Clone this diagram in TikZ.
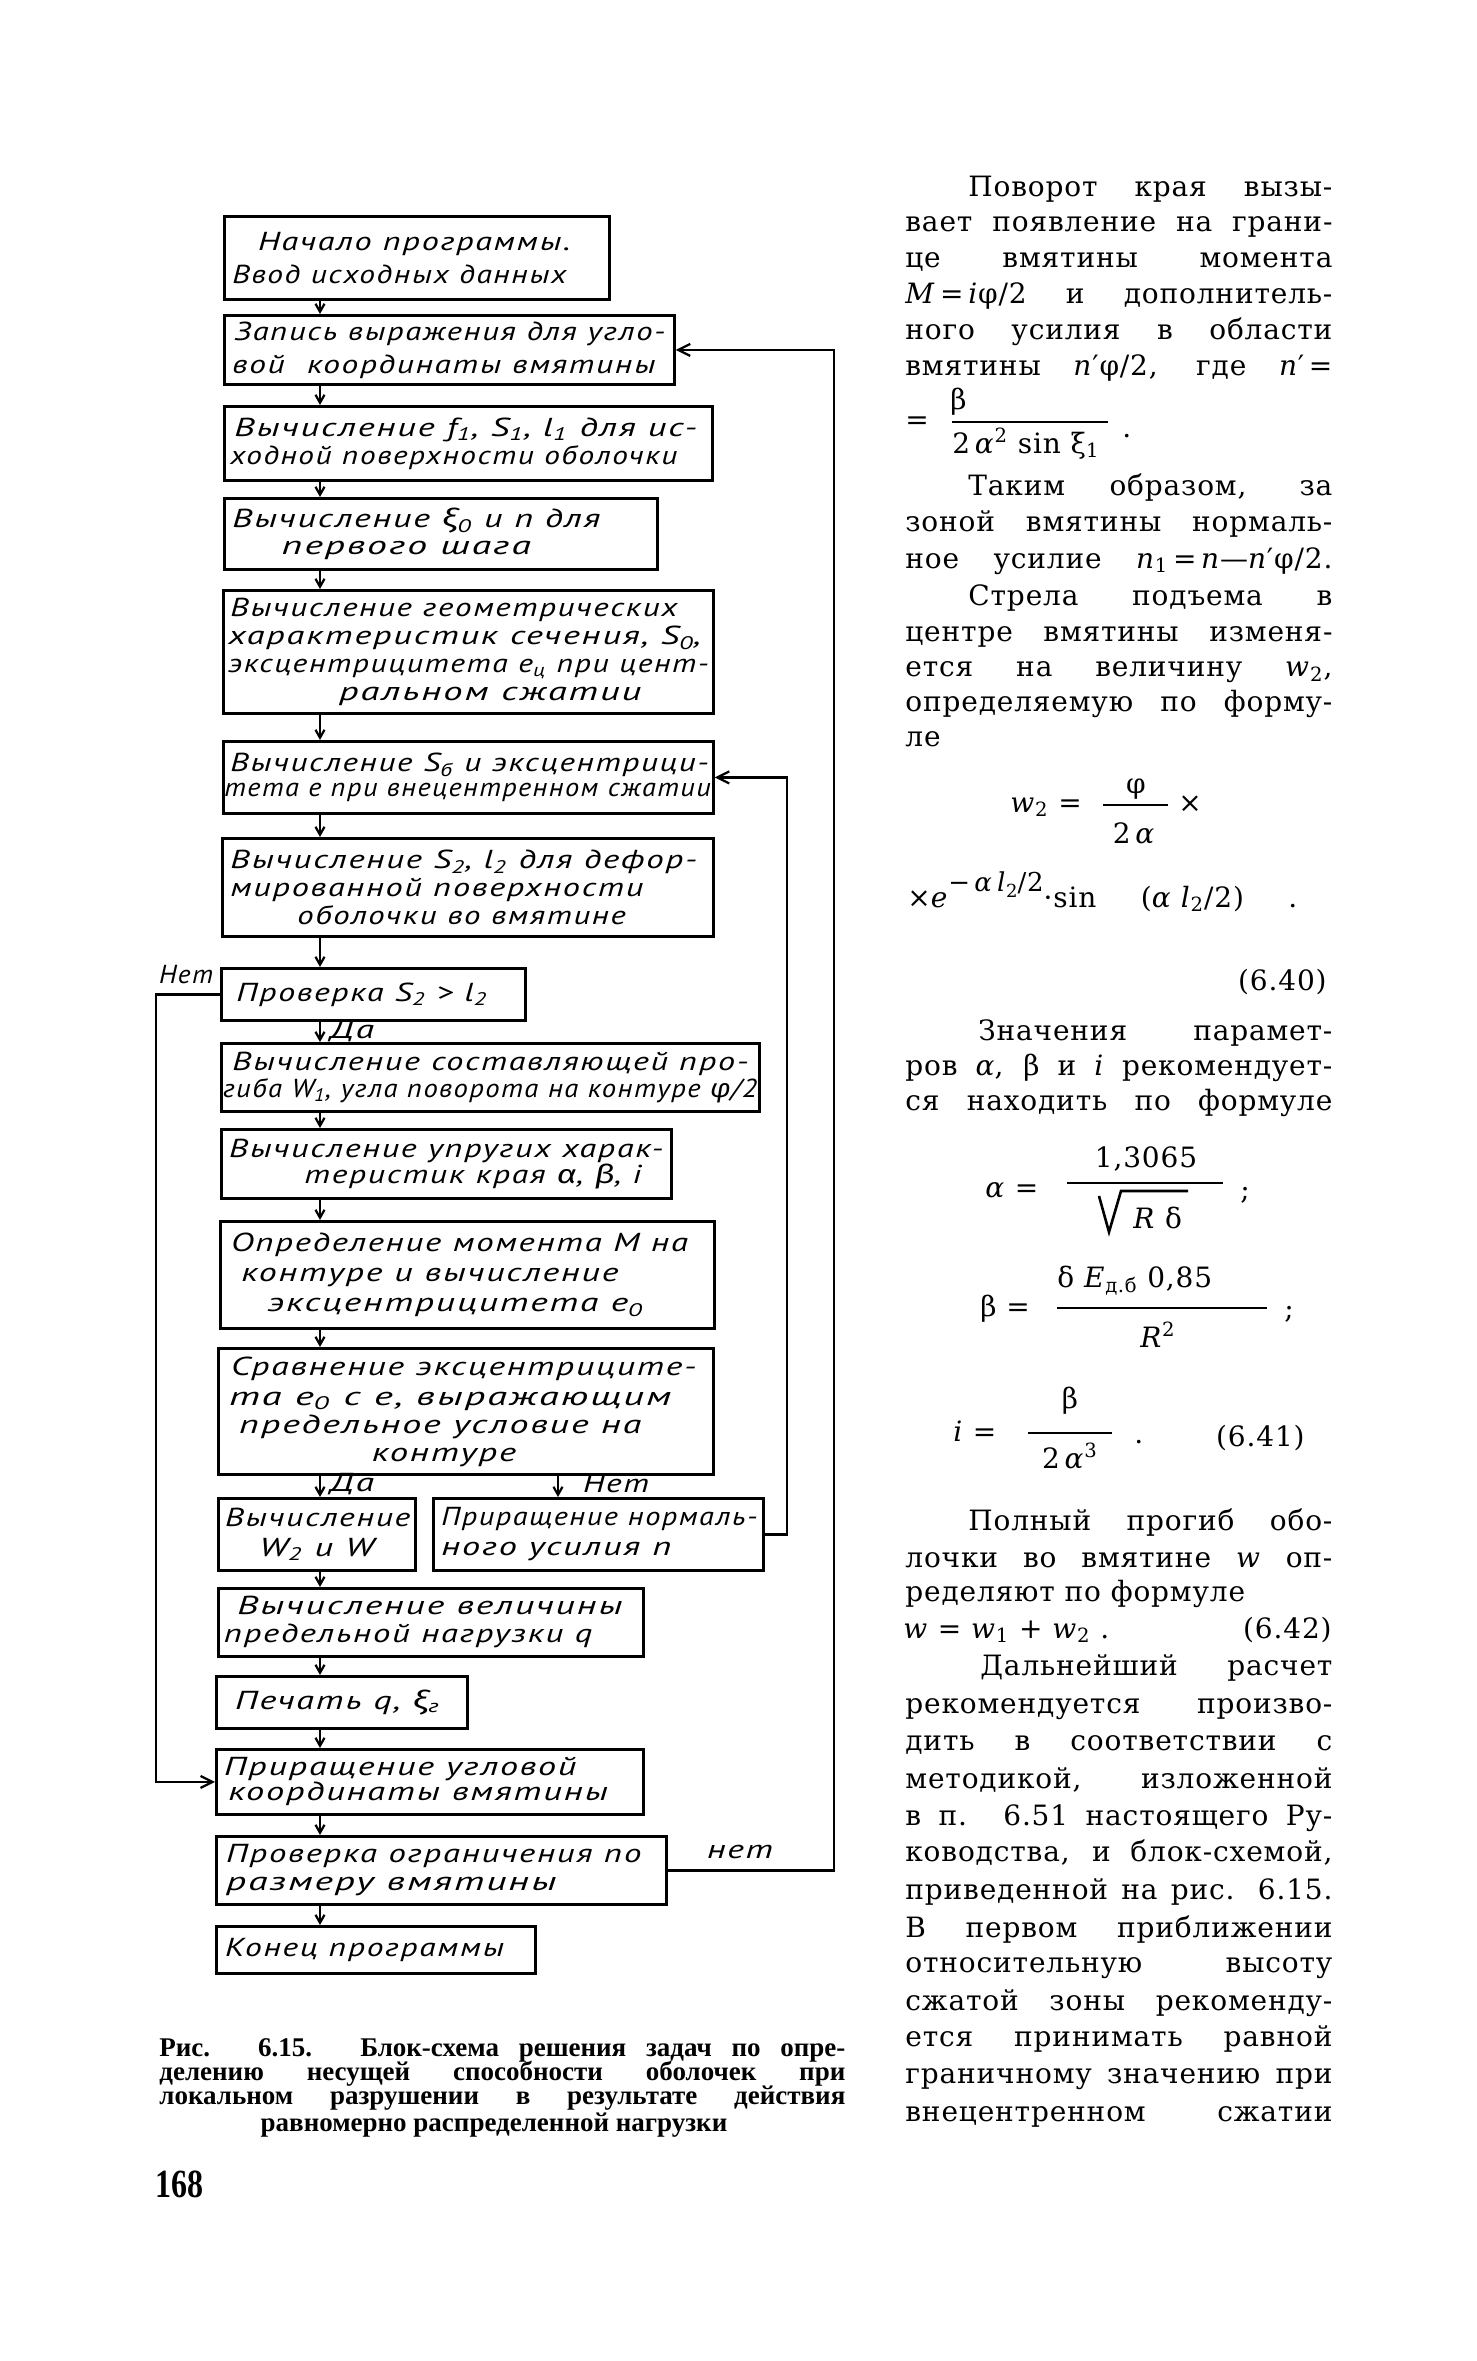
\documentclass[tikz,border=0pt]{standalone}
\usepackage{fontspec}
\usepackage{graphicx}
\usetikzlibrary{arrows.meta,calc}
\setmainfont{DejaVu Serif}[LetterSpace=3]
\newfontfamily\handfam{PT Sans}[LetterSpace=5]
\newfontfamily\grkfam{Fira Sans}
\newfontfamily\capfam{Liberation Serif}
\newcommand\handf{\handfam\itshape\fontsize{13pt}{14pt}\selectfont}
\newcommand\bodyf{\fontsize{14pt}{16pt}\selectfont}
\newcommand\capfont{\capfam\bfseries\fontsize{13.5pt}{14pt}\selectfont}
\newcommand\gk[1]{{\grkfam\itshape #1}}
\newcommand\fl[3]{\hspace*{#1pt}\resizebox{#2pt}{\height}{#3}}
\newsavebox\jlbox
\newcommand\jl[2][0pt]{\sbox\jlbox{\hspace*{#1}#2}\ifdim\wd\jlbox>213.5pt \resizebox{213.5pt}{\height}{\usebox\jlbox}\else\makebox[213.5pt][s]{\hspace*{#1}#2}\fi}
\begin{document}
\begin{tikzpicture}[x=0.5pt,y=-0.5pt,
  fc/.style={draw, line width=1.4pt, anchor=north west, inner xsep=0pt, inner ysep=0pt, font=\handf, align=left},
  lbl/.style={inner sep=0pt, font=\handf},
  conn/.style={line width=1.1pt, -{Straight Barb[length=4pt,width=4.5pt]}},
  loopc/.style={line width=1.1pt, -{Straight Barb[length=6pt,width=6pt]}},
  bt/.style={anchor=base west, inner sep=0pt, font=\bodyf},
  bc/.style={anchor=base, inner sep=0pt, font=\bodyf},
  be/.style={anchor=base east, inner sep=0pt, font=\bodyf},
  bar/.style={line width=0.9pt},
  capst/.style={anchor=base west, inner sep=0pt, font=\capfont}]
\fill[white] (0,0) rectangle (1477,2361);
\useasboundingbox (0,0) rectangle (1477,2361);

% ---------------- flowchart boxes ----------------
\node[fc, minimum width=192.5pt, minimum height=41.5pt, text width=192.5pt] (B1) at (223,215)
  {\fl{16.9}{156.1}{Начало программы.}\\[2.5pt]\fl{4}{167}{Ввод исходных данных}};
\node[fc, minimum width=225pt, minimum height=34.5pt, text width=225pt] (B2) at (223,314)
  {\fl{5}{215.5}{Запись выражения для угло-}\\[2.5pt]\fl{4}{211.5}{вой\ \ координаты вмятины}};
\node[fc, minimum width=244pt, minimum height=37pt, text width=244pt] (B3) at (223,405)
  {\fl{5}{231.3}{Вычисление f\textsubscript{1}, S\textsubscript{1}, l\textsubscript{1} для ис-}\\\fl{3}{223.5}{ходной поверхности оболочки}};
\node[fc, minimum width=216.5pt, minimum height=35.5pt, text width=216.5pt] (B4) at (223,497)
  {\fl{4}{184}{Вычисление \gk{ξ}\textsubscript{0} и n для}\\[-0.7pt]\fl{28.75}{124.5}{первого шага}};
\node[fc, minimum width=245pt, minimum height=61.5pt, text width=245pt] (B5) at (222,589)
  {\fl{3.5}{223.5}{Вычисление геометрических}\\\fl{2.5}{236.3}{характеристик сечения, S\textsubscript{0},}\\\fl{2.5}{240.2}{эксцентрицитета e\textsubscript{ц} при цент-}\\\fl{57.9}{151.1}{ральном сжатии}};
\node[fc, minimum width=245pt, minimum height=36pt, text width=245pt] (B6) at (222,740)
  {\fl{3.5}{239.2}{Вычисление S\textsubscript{б} и эксцентрици-}\\[-1.5pt]\fl{0.5}{243.2}{тета e при внецентренном сжатии}};
\node[fc, minimum width=245.5pt, minimum height=49pt, text width=245.5pt] (B7) at (221,837)
  {\fl{4}{233.3}{Вычисление S\textsubscript{2}, l\textsubscript{2} для дефор-}\\\fl{4}{206.5}{мированной поверхности}\\\fl{37.5}{164.2}{оболочки во вмятине}};
\node[fc, minimum width=152pt, minimum height=26pt, text width=152pt] (B8) at (220,967)
  {\fl{7.5}{125.5}{Проверка S\textsubscript{2} > l\textsubscript{2}}};
\node[fc, minimum width=269pt, minimum height=34pt, text width=269pt] (B9) at (220,1042)
  {\fl{5.5}{258}{Вычисление составляющей про-}\\[-0.7pt]\fl{0.8}{267}{гиба W\textsubscript{1}, угла поворота на контуре \gk{φ}/2}};
\node[fc, minimum width=225pt, minimum height=34.5pt, text width=225pt] (B10) at (220,1128)
  {\fl{3.9}{217.1}{Вычисление упругих харак-}\\[-0.7pt]\fl{41.5}{168.5}{теристик края \gk{α}, \gk{β}, i}};
\node[fc, minimum width=247pt, minimum height=53.5pt, text width=247pt] (B11) at (219,1220)
  {\fl{5.4}{228.4}{Определение момента M на}\\[1pt]\fl{10.5}{188.5}{контуре и вычисление}\\[1pt]\fl{23.7}{187.7}{эксцентрицитета e\textsubscript{0}}};
\node[fc, minimum width=247.5pt, minimum height=63pt, text width=247.5pt] (B12) at (217,1347)
  {\fl{6.4}{232.6}{Сравнение эксцентриците-}\\[1pt]\fl{5.3}{221.1}{та e\textsubscript{0} с e, выражающим}\\\fl{10.5}{201}{предельное условие на}\\\fl{76.7}{72.2}{контуре}};
\node[fc, minimum width=98.5pt, minimum height=36pt, text width=98.5pt] (B13) at (217,1497)
  {\fl{3.3}{92.7}{Вычисление}\\[1pt]\fl{20.5}{57.3}{W\textsubscript{2} и W}};
\node[fc, minimum width=165pt, minimum height=36pt, text width=165pt] (B14) at (432,1497)
  {\fl{4}{158}{Приращение нормаль-}\\[1pt]\fl{4}{115}{ного усилия n}};
\node[fc, minimum width=212.5pt, minimum height=34pt, text width=212.5pt] (B15) at (217,1587)
  {\fl{9.5}{192.5}{Вычисление величины}\\\fl{2.8}{184.2}{предельной нагрузки q}};
\node[fc, minimum width=125.5pt, minimum height=26pt, text width=125.5pt] (B16) at (215,1675)
  {\fl{9.3}{102.6}{Печать q, \gk{ξ}\textsubscript{г}}};
\node[fc, minimum width=213.5pt, minimum height=32.5pt, text width=213.5pt] (B17) at (215,1748)
  {\fl{3.8}{176.2}{Приращение угловой}\\[-1.5pt]\fl{6}{189.7}{координаты вмятины}};
\node[fc, minimum width=225pt, minimum height=34pt, text width=225pt] (B18) at (215,1835)
  {\fl{4.9}{207.6}{Проверка ограничения по}\\\fl{4.9}{165.1}{размеру вмятины}};
\node[fc, minimum width=159.5pt, minimum height=23.5pt, text width=159.5pt] (B19) at (215,1925)
  {\fl{4.3}{139.5}{Конец программы}};

% ---------------- connectors ----------------
\coordinate (mx) at (320,0);
\coordinate (nx) at (558,0);
\coordinate (lx) at (156,0);
\coordinate (rx) at (787,0);
\coordinate (ox) at (834,0);
\foreach \a/\b in {B1/B2,B2/B3,B3/B4,B4/B5,B5/B6,B6/B7,B7/B8,B8/B9,B9/B10,B10/B11,B11/B12,B12/B13,B13/B15,B15/B16,B16/B17,B17/B18,B18/B19}
  \draw[conn] (\a.south -| mx) -- (\b.north -| mx);
\draw[conn] (B12.south -| nx) -- (B14.north -| nx);
\draw[loopc] (B8.west) -- (B8.west -| lx) |- (B17.west);
\draw[loopc] (B14.east) -| (rx |- B6.east) -- (B6.east);
\draw[loopc] (B18.east) -| (ox |- B2.east) -- (B2.east);

\node[lbl] (no1) at (186,975) {\resizebox{27pt}{\height}{Нет}};
\node[lbl] (yes1) at (352,1031) {\resizebox{22pt}{\height}{Да}};
\node[lbl] (yes2) at (352,1484) {\resizebox{22pt}{\height}{Да}};
\node[lbl] (no2) at (616,1484) {\resizebox{33pt}{\height}{Нет}};
\node[lbl] (no3) at (740,1852) {\resizebox{33pt}{\height}{нет}};

% ---------------- caption ----------------
\node[capst] (c1) at (159,2056) {\makebox[343pt][s]{Рис. 6.15. Блок-схема решения задач по опре-}};
\node[capst] (c2) at (159,2080) {\makebox[343pt][s]{делению несущей способности оболочек при}};
\node[capst] (c3) at (159,2104) {\makebox[343pt][s]{локальном разрушении в результате действия}};
\node[capst, anchor=base] (c4) at (494,2131) {равномерно распределенной нагрузки};
\node[anchor=base west, inner sep=0pt, font=\capfam\bfseries\fontsize{20pt}{22pt}\selectfont] (pg) at (155,2197) {\scalebox{0.8}[1]{168}};

% ---------------- right column ----------------
\node[bt] (t1) at (905,196) {\jl[31.5pt]{Поворот края вызы-}};
\node[bt] (t2) at (905,231.8) {\jl{вает появление на грани-}};
\node[bt] (t3) at (905,267.6) {\jl{це вмятины момента}};
\node[bt] (t4) at (905,303.4) {\jl{\textit{M}\,=\,\textit{i}φ/2 и дополнитель-}};
\node[bt] (t5) at (905,339.2) {\jl{ного усилия в области}};
\node[bt] (t6) at (905,375) {\jl{вмятины \textit{n}′φ/2, где \textit{n}′\,=}};
\node[bt] (f1e) at (905,429) {=};
\node[bt] (f1n) at (950,409) {β};
\draw[bar] (952,421.7) -- (1108,421.7);
\node[bt] (f1d) at (952,453) {2\,\textit{α}\textsuperscript{2} sin ξ\textsubscript{1}};
\node[bt] (f1p) at (1122,437) {.};
\node[bt] (t7) at (905,495) {\jl[31.5pt]{Таким образом, за}};
\node[bt] (t8) at (905,531.7) {\jl{зоной вмятины нормаль-}};
\node[bt] (t9) at (905,568.3) {\jl{ное усилие \textit{n}\textsubscript{1}\,=\,\textit{n}—\textit{n}′φ/2.}};
\node[bt] (t10) at (905,605) {\jl[31.5pt]{Стрела подъема в}};
\node[bt] (t11) at (905,641.7) {\jl{центре вмятины изменя-}};
\node[bt] (t12) at (905,676.7) {\jl{ется на величину \textit{w}\textsubscript{2},}};
\node[bt] (t13) at (905,711.7) {\jl{определяемую по форму-}};
\node[bt] (t14) at (905,746.7) {ле};
\node[bt] (f2a) at (1010,812) {\textit{w}\textsubscript{2} =};
\node[bc] (f2n) at (1136,793) {φ};
\draw[bar] (1103,805) -- (1168,805);
\node[bc] (f2d) at (1134,843) {2\,\textit{α}};
\node[bt] (f2x) at (1178,812) {×};
\node[bt] (t15) at (907,907) {\makebox[195pt][s]{×\textit{e}\raisebox{1.1ex}{\fontsize{13pt}{14pt}\selectfont −\,\textit{α}\,\textit{l}\raisebox{-0.5ex}{\fontsize{9pt}{10pt}\selectfont 2}/2}·sin (\textit{α}\,\,\textit{l}\textsubscript{2}/2) .}};
\node[be] (e640) at (1327,990) {(6.40)};
\node[bt] (t16) at (905,1040) {\jl[36.5pt]{Значения парамет-}};
\node[bt] (t17) at (905,1075) {\jl{ров \textit{α}, β и \textit{i} рекомендует-}};
\node[bt] (t18) at (905,1110) {\jl{ся находить по формуле}};
\node[bt] (f3a) at (985,1197) {\textit{α} =};
\node[bc] (f3n) at (1146,1167) {1,3065};
\draw[bar] (1067,1183) -- (1223,1183);
\draw[line width=1.3pt] (1099,1196) -- (1109,1232) -- (1121,1191) -- (1188,1191);
\node[bt] (f3d) at (1133,1228) {\textit{R} δ};
\node[bt] (f3s) at (1240,1199) {;};
\node[bt] (f4a) at (980,1316) {β =};
\node[bt] (f4n) at (1057,1287) {δ \textit{E}\textsubscript{д.б} 0,85};
\draw[bar] (1057,1308) -- (1267,1308);
\node[bc] (f4d) at (1158,1347) {\textit{R}\textsuperscript{2}};
\node[bt] (f4s) at (1284,1318) {;};
\node[bt] (f5a) at (953,1441) {\textit{i} =};
\node[bc] (f5n) at (1070,1408) {β};
\draw[bar] (1028,1433) -- (1112,1433);
\node[bc] (f5d) at (1070,1468) {2\,\textit{α}\textsuperscript{3}};
\node[bt] (f5p) at (1134,1443) {.};
\node[be] (e641) at (1305,1446) {(6.41)};
\node[bt] (t19) at (905,1530) {\jl[31.5pt]{Полный прогиб обо-}};
\node[bt] (t20) at (905,1567.8) {\jl{лочки во вмятине \textit{w} оп-}};
\node[bt] (t21) at (905,1601.9) {ределяют по формуле};
\node[bt] (t22) at (903,1638) {\textit{w} = \textit{w}\textsubscript{1} + \textit{w}\textsubscript{2}\ .};
\node[be] (e642) at (1332,1638) {(6.42)};
\node[bt] (t23) at (905,1675.3) {\jl[37.5pt]{Дальнейший расчет}};
\node[bt] (t24) at (905,1713) {\jl{рекомендуется произво-}};
\node[bt] (t25) at (905,1750.6) {\jl{дить в соответствии с}};
\node[bt] (t26) at (905,1788.2) {\jl{методикой, изложенной}};
\node[bt] (t27) at (905,1825.9) {\jl{в п. 6.51 настоящего Ру-}};
\node[bt] (t28) at (905,1861.7) {\jl{ководства, и блок-схемой,}};
\node[bt] (t29) at (905,1899.4) {\jl{приведенной на рис. 6.15.}};
\node[bt] (t30) at (905,1937) {\jl{В первом приближении}};
\node[bt] (t31) at (905,1972.8) {\jl{относительную высоту}};
\node[bt] (t32) at (905,2010.5) {\jl{сжатой зоны рекоменду-}};
\node[bt] (t33) at (905,2046.3) {\jl{ется принимать равной}};
\node[bt] (t34) at (905,2083.9) {\jl{граничному значению при}};
\node[bt] (t35) at (905,2121.6) {\jl{внецентренном сжатии}};
\end{tikzpicture}
\end{document}
